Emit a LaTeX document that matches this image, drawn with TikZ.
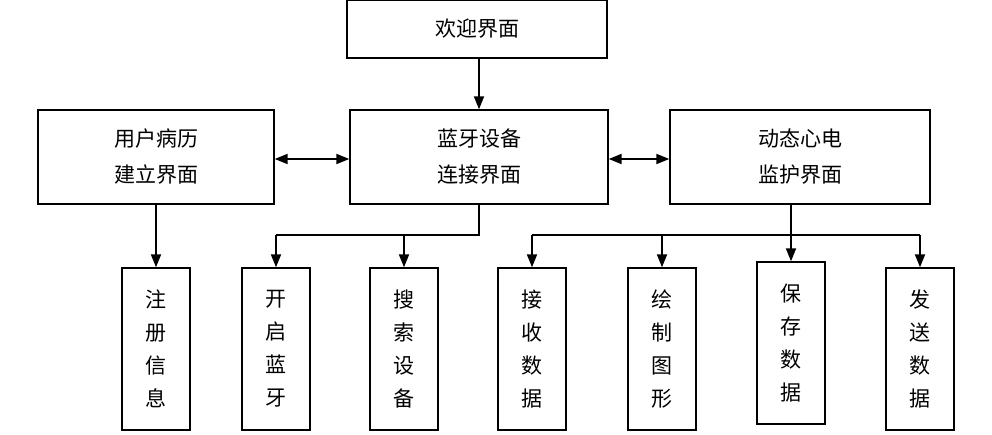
\documentclass[tikz,border=0pt]{standalone}
\usepackage{fontspec}
\newfontfamily\cjk{Noto Sans CJK SC}
\usetikzlibrary{arrows.meta}
\begin{document}
\begin{tikzpicture}[x=1pt,y=-1pt,
  box/.style={draw,line width=1.4pt,inner sep=0pt,font=\cjk\fontsize{21}{36}\selectfont,align=center},
  arr/.style={line width=1.9pt,-{Triangle[length=13pt,width=10pt]}},
  darr/.style={line width=1.9pt,{Triangle[length=13pt,width=10pt]}-{Triangle[length=13pt,width=10pt]}}]
\useasboundingbox (0,0) rectangle (992,435);
\node[box,minimum width=260pt,minimum height=58pt] (top) at (477,29) {欢迎界面};
\node[box,minimum width=236pt,minimum height=94pt] (L) at (156,157) {用户病历\\建立界面};
\node[box,minimum width=258pt,minimum height=94pt] (M) at (479,157) {蓝牙设备\\连接界面};
\node[box,minimum width=260pt,minimum height=94pt] (R) at (800,157) {动态心电\\监护界面};
\tikzset{vb/.style={box,minimum width=68pt,minimum height=162pt,font=\cjk\fontsize{21}{33}\selectfont}}
\node[vb] (b1) at (156,349) {注\\册\\信\\息};
\node[vb] (b2) at (276,349) {开\\启\\蓝\\牙};
\node[vb] (b3) at (404,349) {搜\\索\\设\\备};
\node[vb] (b4) at (532,349) {接\\收\\数\\据};
\node[vb] (b5) at (662,349) {绘\\制\\图\\形};
\node[vb] (b6) at (791,343) {保\\存\\数\\据};
\node[vb] (b7) at (920,349) {发\\送\\数\\据};
\draw[arr] (top.south -| M.north) -- (M.north);
\draw[darr] ([yshift=-2pt]L.east) -- ([yshift=-2pt]M.west);
\draw[darr] ([yshift=-2pt]M.east) -- ([yshift=-2pt]R.west);
\draw[arr] (b1.north |- L.south) -- (b1.north);
\coordinate (mj) at (479,235);
\coordinate (rj) at (800,235);
\draw[line width=1.9pt] (M.south) -- (mj) -- (mj -| b2.north);
\draw[arr] (mj -| b2.north) -- (b2.north);
\draw[arr] (mj -| b3.north) -- (b3.north);
\draw[line width=1.9pt] (rj -| b4.north) -- (rj -| b7.north);
\draw[arr] (R.south -| b6.north) -- (b6.north);
\draw[arr] (rj -| b4.north) -- (b4.north);
\draw[arr] (rj -| b5.north) -- (b5.north);
\draw[arr] (rj -| b7.north) -- (b7.north);
\end{tikzpicture}
\end{document}
